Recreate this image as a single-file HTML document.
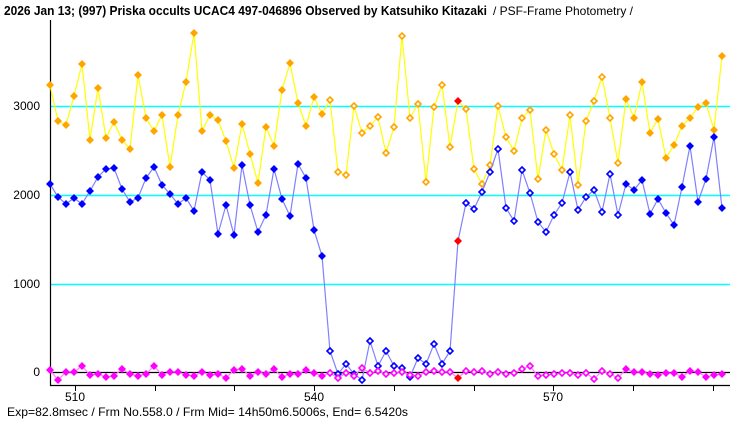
<!DOCTYPE html>
<html><head><meta charset="utf-8"><style>
body{margin:0;background:#fff;width:740px;height:425px;overflow:hidden}
text{font-family:"Liberation Sans",sans-serif}
</style></head><body>
<svg id="s" width="740" height="425" xmlns="http://www.w3.org/2000/svg">
<text x="4" y="15" font-size="12.5" font-weight="bold" textLength="483" lengthAdjust="spacingAndGlyphs">2026 Jan 13; (997) Priska occults UCAC4 497-046896 Observed by Katsuhiko Kitazaki</text>
<text x="493" y="15" font-size="12" textLength="140" lengthAdjust="spacingAndGlyphs">/ PSF-Frame Photometry /</text>
<line x1="50" y1="106.5" x2="730" y2="106.5" stroke="#00ffff" stroke-width="1.5"/>
<line x1="50" y1="195.5" x2="730" y2="195.5" stroke="#00ffff" stroke-width="1.5"/>
<line x1="50" y1="284.5" x2="730" y2="284.5" stroke="#00ffff" stroke-width="1.5"/>
<line x1="50" y1="372.5" x2="730" y2="372.5" stroke="#000" stroke-width="1.2"/>
<line x1="50.5" y1="20" x2="50.5" y2="386" stroke="#000" stroke-width="1.2"/>
<line x1="50" y1="385.5" x2="730" y2="385.5" stroke="#000" stroke-width="1.2"/>
<g font-size="12" text-anchor="end">
<text x="40" y="110">3000</text><text x="40" y="199">2000</text><text x="40" y="288">1000</text><text x="40" y="376">0</text>
</g>
<g font-size="12" text-anchor="middle">
<text x="75" y="401">510</text><text x="314" y="401">540</text><text x="553" y="401">570</text>
</g>
<text x="7" y="416" font-size="12" textLength="401" lengthAdjust="spacingAndGlyphs">Exp=82.8msec / Frm No.558.0 / Frm Mid= 14h50m6.5006s,  End= 6.5420s</text>
<g id="g"></g>
</svg>
<script>
var g=document.getElementById('g'),NS='http://www.w3.org/2000/svg';
var tk=[75,155,234,314,394,474,553,633,713];
tk.forEach(function(x){var l=document.createElementNS(NS,'line');l.setAttribute('x1',x+.5);l.setAttribute('x2',x+.5);l.setAttribute('y1',385);l.setAttribute('y2',391);l.setAttribute('stroke','#000');g.appendChild(l);});
var O=[85,121,125,96,64,140,88,138,122,140,149,75,118,131,115,167,115,82,33,131,115,120,141,168,124,154,183,127,146,90,63,103,126,97,114,100,172,175,106,133,126,117,153,127,36,118,104,182,107,85,147,101,109,169,184,165,106,137,151,118,110,179,130,154,170,115,185,121,101,77,118,163,99,118,82,133,119,158,145,126,118,107,103,130,56];
var B=[184,197,204,198,204,191,177,169,168,189,202,198,178,167,185,194,204,198,211,172,180,234,205,235,165,205,232,215,169,199,216,164,178,230,256,351,374,364,374,380,341,366,351,366,368,377,358,364,344,364,351,241,203,209,192,172,149,208,221,170,193,222,232,215,203,172,210,197,190,212,174,215,184,190,180,214,199,213,225,187,146,202,179,137,208];
var M=[370,380,372,372,366,375,374,377,376,369,374,376,374,366,375,372,372,375,376,372,375,374,378,370,369,376,372,374,369,377,374,374,370,373,376,373,378,373,376,368,373,371,374,373,372,375,376,372,371,372,372,378,371,372,371,374,372,374,373,369,366,376,375,374,373,373,375,373,379,371,374,378,369,372,372,374,375,373,373,377,371,372,377,375,374];
function ser(d,line,col){
 var p=d.map(function(y,i){return (50+8*i)+','+y}).join(' ');
 var pl=document.createElementNS(NS,'polyline');pl.setAttribute('points',p);pl.setAttribute('fill','none');pl.setAttribute('stroke',line);pl.setAttribute('stroke-width','1.2');g.appendChild(pl);
 d.forEach(function(y,i){var x=50+8*i,c=col,hol=(i>=35&&i<=71&&i!=51);if(i==51)c='#ff0000';
  var q=document.createElementNS(NS,'polygon');
  q.setAttribute('points',x+','+(y-4)+' '+(x+4)+','+y+' '+x+','+(y+4)+' '+(x-4)+','+y);
  if(hol){q.setAttribute('fill','#fff');q.setAttribute('stroke',c);q.setAttribute('stroke-width','1.6');
   q.setAttribute('points',x+','+(y-3)+' '+(x+3)+','+y+' '+x+','+(y+3)+' '+(x-3)+','+y);}
  else q.setAttribute('fill',c);
  g.appendChild(q);});
}
ser(O,'#ffff00','#ffa500');
ser(B,'#8080ff','#0000ff');
ser(M,'#ff80ff','#ff00ff');
</script>
</body></html>
